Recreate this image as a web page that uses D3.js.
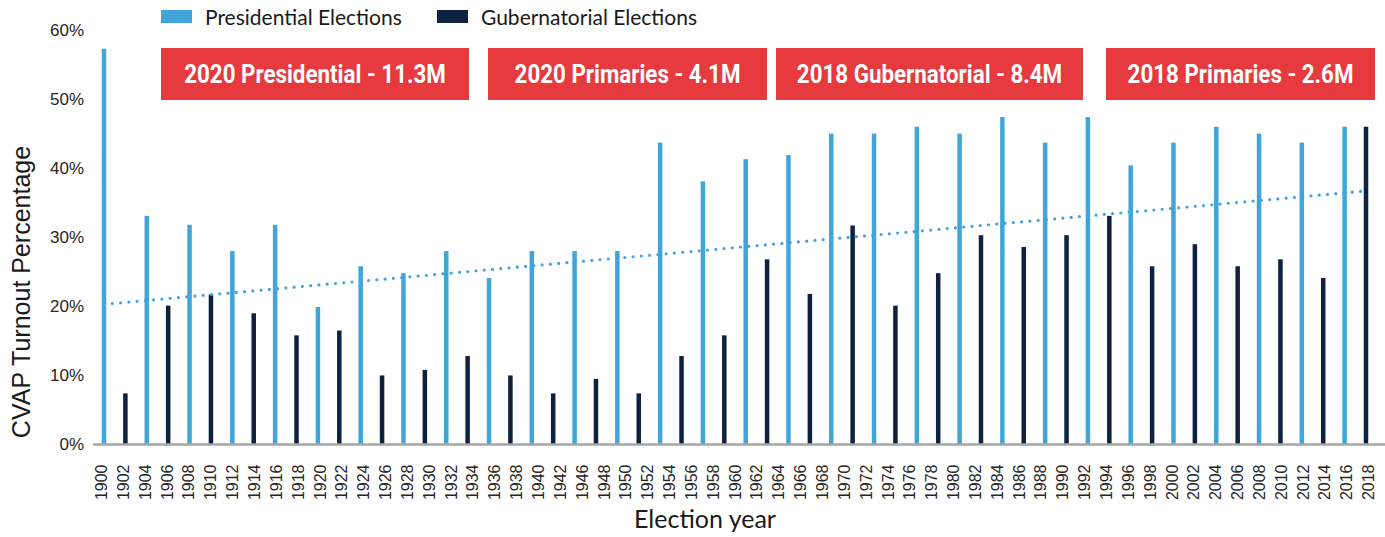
<!DOCTYPE html>
<html>
<head>
<meta charset="utf-8">
<script src="https://cdn.jsdelivr.net/npm/d3@7"></script>
<style>
  html, body { margin: 0; padding: 0; background: #fff; }
  svg { display: block; }
</style>
</head>
<body>
<svg id="turnout-chart"></svg>
<script>
const presidentialYears = [1900, 1904, 1908, 1912, 1916, 1920, 1924, 1928, 1932, 1936,
  1940, 1944, 1948, 1952, 1956, 1960, 1964, 1968, 1972, 1976,
  1980, 1984, 1988, 1992, 1996, 2000, 2004, 2008, 2012, 2016];
const presidentialTurnout = [57.3, 33.1, 31.8, 28.0, 31.8, 19.9, 25.8, 24.8, 28.0, 24.1,
  28.0, 28.0, 28.0, 43.7, 38.1, 41.3, 41.9, 45.0, 45.0, 46.0,
  45.0, 47.4, 43.7, 47.4, 40.4, 43.7, 46.0, 45.0, 43.7, 46.0];

const gubernatorialYears = [1902, 1906, 1910, 1914, 1918, 1922, 1926, 1930, 1934, 1938,
  1942, 1946, 1950, 1954, 1958, 1962, 1966, 1970, 1974, 1978,
  1982, 1986, 1990, 1994, 1998, 2002, 2006, 2010, 2014, 2018];
const gubernatorialTurnout = [7.4, 20.1, 21.7, 19.0, 15.8, 16.5, 10.0, 10.8, 12.8, 10.0,
  7.4, 9.5, 7.4, 12.8, 15.8, 26.8, 21.8, 31.7, 20.1, 24.8,
  30.3, 28.6, 30.3, 33.1, 25.8, 29.0, 25.8, 26.8, 24.1, 46.0];

// every election year, in axis order
const electionYears = [1900, 1902, 1904, 1906, 1908, 1910, 1912, 1914, 1916, 1918,
  1920, 1922, 1924, 1926, 1928, 1930, 1932, 1934, 1936, 1938,
  1940, 1942, 1944, 1946, 1948, 1950, 1952, 1954, 1956, 1958,
  1960, 1962, 1964, 1966, 1968, 1970, 1972, 1974, 1976, 1978,
  1980, 1982, 1984, 1986, 1988, 1990, 1992, 1994, 1996, 1998,
  2000, 2002, 2004, 2006, 2008, 2010, 2012, 2014, 2016, 2018];

// tick labels as printed on the original (1944 is not printed)
const yearLabels = ["1900", "1902", "1904", "1906", "1908", "1910", "1912", "1914", "1916", "1918",
  "1920", "1922", "1924", "1926", "1928", "1930", "1932", "1934", "1936", "1938",
  "1940", "1942", "1946", "1948", "1950", "1952", "1954", "1956", "1958", "1960",
  "1962", "1964", "1966", "1968", "1970", "1972", "1974", "1976", "1978", "1980",
  "1982", "1984", "1986", "1988", "1990", "1992", "1994", "1996", "1998", "2000",
  "2002", "2004", "2006", "2008", "2010", "2012", "2014", "2016", "2018"];

const percentTicks = [0, 10, 20, 30, 40, 50, 60];

// linear trend, value at first and last election year
const trendYears = [1900, 2018];
const trendTurnout = [20.3, 36.7];

const seriesNames = ["Presidential Elections", "Gubernatorial Elections"];

const voteCallouts = ["2020 Presidential - 11.3M", "2020 Primaries - 4.1M",
  "2018 Gubernatorial - 8.4M", "2018 Primaries - 2.6M"];

const presColor = "#41a5d9";
const guberColor = "#0e2240";
const calloutColor = "#e63a3e";

createTurnoutChart({ id: "turnout-chart", size: { width: 1385, height: 537 } });

function createTurnoutChart(chartParams) {
  const svgSize = chartParams.size;
  const svg = d3.select(`#${chartParams.id}`)
    .attr("width", svgSize.width)
    .attr("height", svgSize.height);
  const mainGroup = svg.append("g").attr("id", `${chartParams.id}-main-group`);

  const xBar = d3.scalePoint().domain(electionYears).range([104, 1366]);
  const xLabel = d3.scalePoint().domain(yearLabels).range([101, 1368]);
  const yLine = d3.scaleLinear().domain([0, 60]).range([444.5, 30]);

  drawYAxis(mainGroup, yLine);
  drawBars(mainGroup, xBar, yLine, presidentialYears, presidentialTurnout, presColor);
  drawBars(mainGroup, xBar, yLine, gubernatorialYears, gubernatorialTurnout, guberColor);
  drawXAxis(mainGroup, xLabel, yLine, svgSize);
  drawTrend(mainGroup, xBar, yLine);
  drawLegend(mainGroup);
  drawCallouts(mainGroup);
  drawTitles(mainGroup);
}

function drawYAxis(mainGroup, yLine) {
  const yAxis = d3.axisLeft(yLine)
    .tickValues(percentTicks)
    .tickSize(0)
    .tickPadding(0)
    .tickFormat(d => `${d}%`);
  const g = mainGroup.append("g")
    .attr("transform", "translate(84,0)")
    .call(yAxis);
  g.select(".domain").remove();
  g.selectAll("text")
    .attr("font-family", "'Liberation Sans', Arial, sans-serif")
    .attr("font-size", 17)
    .attr("fill", "#262626");
}

function drawBars(mainGroup, xBar, yLine, years, values, color) {
  const barWidth = 4.5;
  mainGroup.append("g")
    .selectAll("rect")
    .data(years)
    .enter()
    .append("rect")
    .attr("x", d => xBar(d) - barWidth / 2)
    .attr("y", (d, i) => yLine(values[i]))
    .attr("width", barWidth)
    .attr("height", (d, i) => yLine(0) - yLine(values[i]))
    .attr("fill", color);
}

function drawXAxis(mainGroup, xLabel, yLine, svgSize) {
  const xAxis = d3.axisBottom(xLabel).tickSize(0).tickPadding(0);
  const g = mainGroup.append("g")
    .attr("transform", `translate(0,${yLine(0)})`)
    .call(xAxis);
  g.select(".domain").remove();
  g.selectAll("text")
    .attr("font-family", "'Liberation Sans', Arial, sans-serif")
    .attr("font-size", 16)
    .attr("fill", "#262626")
    .attr("text-anchor", "end")
    .attr("dy", "0.35em")
    .attr("transform", "translate(0,20) rotate(-90)")
    .attr("x", 0)
    .attr("y", 0);

  mainGroup.append("line")
    .attr("x1", 93)
    .attr("x2", svgSize.width)
    .attr("y1", yLine(0))
    .attr("y2", yLine(0))
    .attr("stroke", "#a6a6a6")
    .attr("stroke-width", 2.5);
}

function drawTrend(mainGroup, xBar, yLine) {
  const line = d3.line()
    .x(d => xBar(d))
    .y((d, i) => yLine(trendTurnout[i]));
  mainGroup.append("path")
    .attr("fill", "none")
    .attr("stroke", presColor)
    .attr("stroke-width", 3.2)
    .attr("stroke-linecap", "round")
    .attr("stroke-dasharray", "0 8.3")
    .attr("d", line(trendYears));
}

function drawLegend(mainGroup) {
  const legendX = [161, 437];
  const colors = [presColor, guberColor];
  const legend = mainGroup.append("g")
    .selectAll("g")
    .data(seriesNames)
    .enter()
    .append("g")
    .attr("transform", (d, i) => `translate(${legendX[i]},0)`);
  legend.append("rect")
    .attr("x", 0)
    .attr("y", 10)
    .attr("width", 31)
    .attr("height", 13)
    .attr("fill", (d, i) => colors[i]);
  legend.append("text")
    .attr("x", 44)
    .attr("y", 25)
    .attr("font-family", "Lato, sans-serif")
    .attr("font-size", 21)
    .attr("fill", "#1a1a1a")
    .text(d => d);
}

function drawCallouts(mainGroup) {
  const boxX = [161, 488, 776, 1106];
  const boxW = [308, 279, 307, 269];
  const condense = 0.86;
  const box = mainGroup.append("g")
    .selectAll("g")
    .data(voteCallouts)
    .enter()
    .append("g")
    .attr("transform", (d, i) => `translate(${boxX[i]},48)`);
  box.append("rect")
    .attr("width", (d, i) => boxW[i])
    .attr("height", 52)
    .attr("fill", calloutColor);
  // no narrow face installed, so squeeze a bold one
  box.append("text")
    .attr("transform", (d, i) => `translate(${boxW[i] / 2},26) scale(${condense},1)`)
    .attr("dy", "0.36em")
    .attr("text-anchor", "middle")
    .attr("font-family", "Roboto, sans-serif")
    .attr("font-weight", "bold")
    .attr("font-size", 26)
    .attr("fill", "#fff")
    .text(d => d);
}

function drawTitles(mainGroup) {
  mainGroup.append("text")
    .attr("transform", "translate(30,292) rotate(-90)")
    .attr("text-anchor", "middle")
    .attr("font-family", "'Liberation Sans', Arial, sans-serif")
    .attr("font-size", 25)
    .attr("fill", "#1a1a1a")
    .text("CVAP Turnout Percentage");

  mainGroup.append("text")
    .attr("x", 705)
    .attr("y", 528)
    .attr("text-anchor", "middle")
    .attr("font-family", "Lato, sans-serif")
    .attr("font-size", 25)
    .attr("fill", "#1a1a1a")
    .text("Election year");
}
</script>
</body>
</html>
